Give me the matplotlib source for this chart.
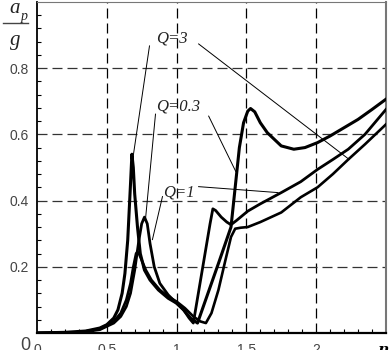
import numpy as np
import matplotlib.pyplot as plt

# curve with the tall first peak (Q=3)
x_a = [0, 0.2, 0.35, 0.45, 0.5, 0.55, 0.58, 0.61, 0.63, 0.65, 0.67, 0.68, 0.69, 0.70,
       0.72, 0.74, 0.77, 0.81, 0.87, 0.94, 1.0, 1.05, 1.1, 1.15, 1.2, 1.3, 1.39, 1.42,
       1.45, 1.48, 1.51, 1.53, 1.56, 1.6, 1.65, 1.75, 1.84, 1.92, 2.01, 2.1, 2.2, 2.3,
       2.4, 2.5]
y_a = [0, 0.002, 0.006, 0.015, 0.025, 0.045, 0.07, 0.12, 0.18, 0.28, 0.45, 0.54, 0.5,
       0.42, 0.32, 0.24, 0.19, 0.16, 0.13, 0.105, 0.09, 0.07, 0.045, 0.03, 0.09, 0.21,
       0.32, 0.44, 0.56, 0.635, 0.67, 0.678, 0.668, 0.635, 0.605, 0.565, 0.555, 0.56,
       0.575, 0.595, 0.62, 0.645, 0.675, 0.706]

# curve with the 0.35 first peak
x_b = [0, 0.3, 0.45, 0.55, 0.6, 0.64, 0.67, 0.7, 0.73, 0.75, 0.77, 0.79, 0.81, 0.84,
       0.88, 0.94, 1.0, 1.05, 1.09, 1.12, 1.16, 1.2, 1.24, 1.26, 1.28, 1.32, 1.36, 1.39,
       1.43, 1.51, 1.6, 1.75, 1.89, 2.01, 2.12, 2.23, 2.35, 2.5]
y_b = [0, 0.002, 0.01, 0.03, 0.05, 0.08, 0.12, 0.19, 0.28, 0.33, 0.35, 0.33, 0.27, 0.2,
       0.15, 0.115, 0.09, 0.07, 0.045, 0.03, 0.13, 0.23, 0.33, 0.375, 0.37, 0.35, 0.335,
       0.327, 0.34, 0.368, 0.39, 0.424, 0.457, 0.494, 0.524, 0.555, 0.6, 0.675]

# curve with the 0.25 first peak
x_c = [0, 0.3, 0.45, 0.55, 0.6, 0.64, 0.67, 0.69, 0.71, 0.72, 0.73, 0.75, 0.78, 0.82,
       0.88, 0.94, 1.0, 1.06, 1.12, 1.17, 1.21, 1.25, 1.3, 1.35, 1.39, 1.42, 1.46, 1.51,
       1.6, 1.75, 1.89, 2.01, 2.12, 2.23, 2.35, 2.5]
y_c = [0, 0.002, 0.012, 0.035, 0.06, 0.1, 0.15, 0.2, 0.24, 0.245, 0.24, 0.22, 0.19,
       0.16, 0.13, 0.11, 0.095, 0.075, 0.05, 0.035, 0.03, 0.06, 0.13, 0.22, 0.29, 0.315,
       0.318, 0.32, 0.335, 0.364, 0.41, 0.44, 0.48, 0.524, 0.57, 0.63]

x_ticks = [0, 0.5, 1, 1.5, 2]
x_labels = ['0', '0.5', '1', '1.5', '2']
y_ticks = [0.2, 0.4, 0.6, 0.8]
y_labels = ['0.2', '0.4', '0.6', '0.8']

# labels: text, text anchor, leader lines
labels = ['Q=3', 'Q=0.3', 'Q=1']
label_pos = [(0.85, 0.888), (0.85, 0.685), (0.90, 0.424)]
leaders = [
    [((0.806, 0.867), (0.691, 0.539)), ((1.158, 0.873), (2.237, 0.524))],
    [((0.849, 0.661), (0.777, 0.342)), ((1.230, 0.655), (1.424, 0.488))],
    [((0.899, 0.412), (0.827, 0.282)), ((1.158, 0.442), (1.727, 0.424))],
]

fig = plt.figure(figsize=(3.89, 3.5), dpi=100)
ax = fig.add_axes([0.0951, 0.0486, 0.897, 0.946])

for xv in x_ticks[1:]:
    ax.axvline(xv, color='black', lw=0.9, dashes=(8, 4), zorder=1)
for yv in y_ticks:
    ax.axhline(yv, color='#333333', lw=0.9, dashes=(8, 4), zorder=1)

ax.plot(x_a, y_a, color='black', lw=2.2, zorder=3)
ax.plot(x_b, y_b, color='black', lw=2.0, zorder=3)
ax.plot(x_c, y_c, color='black', lw=1.9, zorder=3)

for txt, pos, segs in zip(labels, label_pos, leaders):
    ax.text(pos[0], pos[1], txt, family='Liberation Serif', style='italic',
            fontsize=12, va='center', ha='left', color='#222222')
    for (p0, p1) in segs:
        ax.plot([p0[0], p1[0]], [p0[1], p1[1]], color='black', lw=0.7, zorder=2)

ax.set_xlim(0, 2.5)
ax.set_ylim(0, 1.0)
ax.set_xticks(x_ticks)
ax.set_xticklabels(x_labels)
ax.set_yticks(y_ticks)
ax.set_yticklabels(y_labels)
ax.set_xticks(np.arange(0.1, 2.5, 0.1), minor=True)
ax.set_yticks(np.arange(0.04, 1.0, 0.04), minor=True)
ax.tick_params(which='major', length=0, labelsize=10, labelcolor='#444444')
ax.tick_params(axis='x', which='major', pad=7)
ax.tick_params(axis='y', which='major', pad=6)
ax.tick_params(which='minor', direction='in', length=3, width=0.8)
for lab in ax.get_xticklabels() + ax.get_yticklabels():
    lab.set_family('Liberation Sans')

ax.spines['left'].set_linewidth(1.3)
ax.spines['bottom'].set_linewidth(1.6)
ax.spines['top'].set_color('#777777')
ax.spines['right'].set_color('#777777')
ax.spines['right'].set_linewidth(1.5)

# y axis label a_p / g and the lone zero
fig.text(0.038, 0.975, 'a', family='Liberation Serif', style='italic', fontsize=15,
         ha='center', va='center', color='#222222')
fig.text(0.062, 0.952, 'p', family='Liberation Serif', style='italic', fontsize=10,
         ha='center', va='center', color='#222222')
fig.add_artist(plt.Line2D([0.008, 0.072], [0.935, 0.935], color='#444444', lw=1.0))
fig.text(0.040, 0.885, 'g', family='Liberation Serif', style='italic', fontsize=15,
         ha='center', va='center', color='#222222')
fig.text(0.065, 0.012, '0', family='Liberation Sans', fontsize=13, ha='center',
         va='center', color='#444444')
fig.text(0.985, 0.0, 'η', family='DejaVu Serif', style='italic', weight='bold',
         fontsize=11, ha='center', va='center', color='black')

plt.savefig('out.png', dpi=100)
